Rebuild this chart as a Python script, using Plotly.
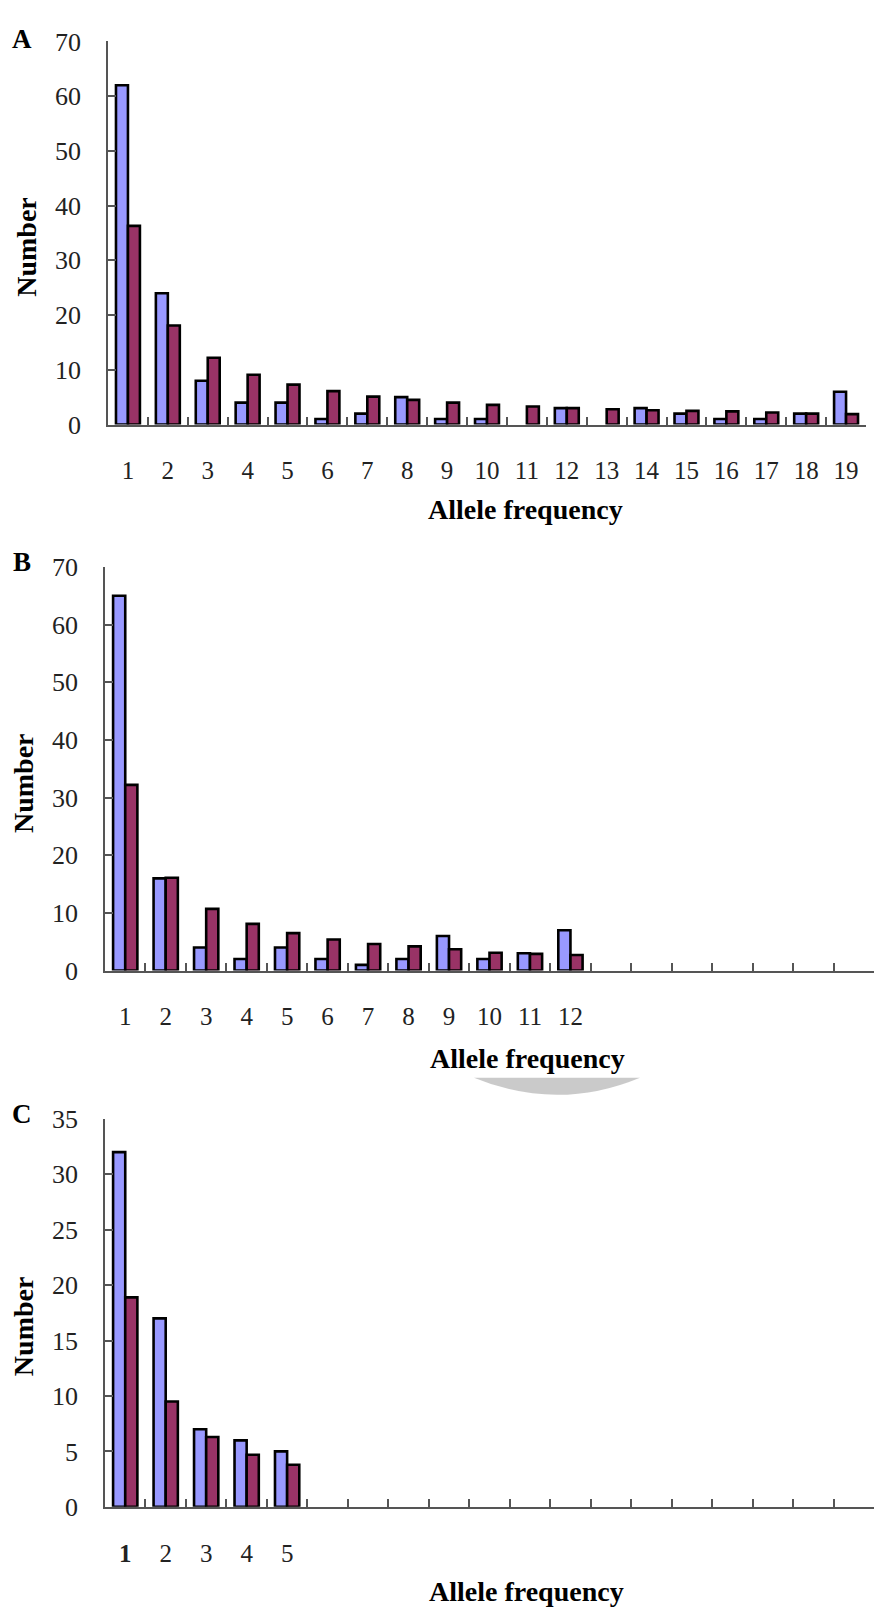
import plotly.graph_objects as go

W, H = 874, 1623

# ---------------- data ----------------
a_labels = [str(i) for i in range(1, 20)]
a_observed = [62, 24, 8, 4, 4, 1, 2, 5, 1, 1, 0, 3, 0, 3, 2, 1, 1, 2, 6]
a_expected = [36.3, 18.1, 12.2, 9.1, 7.3, 6.1, 5.1, 4.5, 4.0, 3.6, 3.3, 3.0, 2.8, 2.6, 2.5, 2.4, 2.2, 2.0, 1.9]

b_labels = [str(i) for i in range(1, 13)]
b_observed = [65, 16, 4, 2, 4, 2, 1, 2, 6, 2, 3, 7]
b_expected = [32.2, 16.1, 10.7, 8.1, 6.5, 5.4, 4.6, 4.2, 3.7, 3.1, 2.9, 2.7]

c_labels = ["<b>1</b>", "2", "3", "4", "5"]
c_observed = [32, 17, 7, 6, 5]
c_expected = [18.9, 9.5, 6.3, 4.7, 3.8]

n_slots = 19
panel_letters = ["A", "B", "C"]
x_title = "Allele frequency"
y_title = "Number"

blue = "#9999FF"
red = "#993366"
axis_col = "#555555"
text_col = "#222222"
FONT = "Liberation Serif, Times New Roman, serif"


def px(x):
    return x / W


def py(y):
    return 1 - y / H


def nz(vals):
    # zero-height bars are not drawn in the original
    return [v if v != 0 else None for v in vals]


# panel geometry in pixels: (x_left, x_right, y_top, y_bottom)
geom = [
    (108, 866, 28, 418),
    (105, 874, 563, 974),
    (105, 874, 1125, 1520),
]
yranges = [(0, 70, 10), (0, 70, 10), (0, 35, 5)]
panels = [
    (a_labels, a_observed, a_expected),
    (b_labels, b_observed, b_expected),
    (c_labels, c_observed, c_expected),
]

fig = go.Figure()
annotations = []
shapes = []

for i, ((labels, obs, exp), (xl, xr, yt, yb), (y0, y1, dt)) in enumerate(zip(panels, geom, yranges)):
    k = "" if i == 0 else str(i + 1)
    xa, ya = "x" + k, "y" + k
    xs = list(range(1, len(labels) + 1))
    fig.add_trace(go.Bar(x=xs, y=nz(obs), xaxis=xa, yaxis=ya,
                         marker=dict(color=blue, line=dict(color="black", width=2.6)),
                         showlegend=False, hoverinfo="skip"))
    fig.add_trace(go.Bar(x=xs, y=nz(exp), xaxis=xa, yaxis=ya,
                         marker=dict(color=red, line=dict(color="black", width=2.6)),
                         showlegend=False, hoverinfo="skip"))
    fig.layout["xaxis" + k] = dict(
        domain=[px(xl), px(xr)], anchor=ya, range=[0.5, n_slots + 0.5],
        tickmode="array", tickvals=xs, ticktext=labels, ticks="",
        showline=True, linecolor=axis_col, linewidth=1.5, showgrid=False, zeroline=False,
        tickfont=dict(family=FONT, size=25, color=text_col), ticklabelstandoff=23,
        minor=dict(tickmode="array", tickvals=[j + 0.5 for j in range(1, n_slots)], ticks="inside",
                   ticklen=8, tickcolor=axis_col, tickwidth=1.5, showgrid=False),
        fixedrange=True,
    )
    fig.layout["yaxis" + k] = dict(
        domain=[py(yb), py(yt)], anchor=xa, range=[y0, y1], tickmode="linear", tick0=0, dtick=dt,
        ticks="inside", ticklen=8, tickcolor=axis_col, tickwidth=1.5,
        showline=True, linecolor=axis_col, linewidth=1.5, showgrid=False, zeroline=False,
        tickfont=dict(family=FONT, size=26, color=text_col), ticklabelstandoff=20,
        fixedrange=True,
    )

# axis titles and panel letters
title_x = [(525, 505), (527, 1063), (526, 1606)]
num_pos = [(27, 237), (23, 783), (23, 1336)]
letter_pos = [(22, 25), (22, 558), (22, 1120)]
for (tx, ty), (nx, ny), (lx, ly), letter in zip(title_x, num_pos, letter_pos, panel_letters):
    annotations.append(dict(text="<b>" + x_title + "</b>", x=px(tx), y=py(ty), xref="paper", yref="paper",
                            showarrow=False, xanchor="center", yanchor="middle",
                            font=dict(family=FONT, size=28, color="black")))
    annotations.append(dict(text="<b>" + y_title + "</b>", x=px(nx), y=py(ny), xref="paper", yref="paper",
                            showarrow=False, xanchor="center", yanchor="middle", textangle=-90,
                            font=dict(family=FONT, size=28, color="black")))
    annotations.append(dict(text="<b>" + letter + "</b>", x=px(lx), y=py(ly), xref="paper", yref="paper",
                            showarrow=False, xanchor="center", yanchor="middle",
                            font=dict(family=FONT, size=27, color="black")))

# faint grey seal fragment under panel B's axis title
shapes.append(dict(type="path", xref="paper", yref="paper",
                   path="M {a},{b} L {c},{b} Q {m},{d} {a},{b} Z".format(
                       a=px(474), b=py(1083), c=px(640), m=px(557), d=py(1118)),
                   fillcolor="rgba(150,150,150,0.5)", line=dict(width=0)))

fig.update_layout(
    width=W, height=H, margin=dict(l=0, r=0, t=0, b=0),
    paper_bgcolor="white", plot_bgcolor="white",
    barmode="group", bargap=0.4, bargroupgap=0,
    annotations=annotations, shapes=shapes,
)

fig.write_html("out.html")
